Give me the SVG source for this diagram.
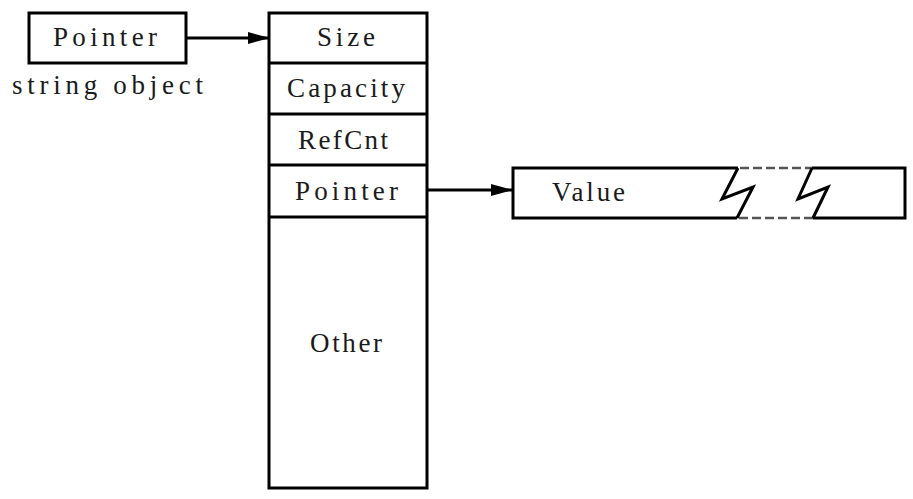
<svg xmlns="http://www.w3.org/2000/svg" width="913" height="499" viewBox="0 0 913 499">
<style>
.box{fill:#fff;stroke:#000;stroke-width:3}
.ln{fill:none;stroke:#000;stroke-width:3}
.t{font-family:"Liberation Serif","DejaVu Serif",serif;font-size:27px;fill:#1a1a1a}
.c{text-anchor:middle}
.dash{fill:none;stroke:#555;stroke-width:2.5;stroke-dasharray:9 4}
</style>
<defs>
<marker id="ah" viewBox="0 0 22 12" refX="22" refY="6" markerWidth="22" markerHeight="12" markerUnits="userSpaceOnUse" orient="auto">
<path d="M0,0 L22,6 L0,12 Z" fill="#000"/>
</marker>
</defs>
<rect width="913" height="499" fill="#fff"/>
<g id="string-object">
<rect class="box" x="29" y="13" width="157" height="50"/>
<text class="t c" x="105" y="46" textLength="104" lengthAdjust="spacing">Pointer</text>
<text class="t" x="12" y="94" textLength="191" lengthAdjust="spacing">string object</text>
</g>
<g id="header">
<rect class="box" x="269" y="13" width="158" height="475"/>
<line class="ln" x1="269" y1="63" x2="427" y2="63"/>
<line class="ln" x1="269" y1="114" x2="427" y2="114"/>
<line class="ln" x1="269" y1="165" x2="427" y2="165"/>
<line class="ln" x1="269" y1="217" x2="427" y2="217"/>
<text class="t c" x="346" y="46" textLength="58" lengthAdjust="spacing">Size</text>
<text class="t c" x="346" y="97" textLength="118" lengthAdjust="spacing">Capacity</text>
<text class="t c" x="343" y="149" textLength="90" lengthAdjust="spacing">RefCnt</text>
<text class="t c" x="346.5" y="200" textLength="103" lengthAdjust="spacing">Pointer</text>
<text class="t c" x="346" y="352" textLength="72" lengthAdjust="spacing">Other</text>
</g>
<g id="value">
<path class="ln" d="M738,168 L513,168 L513,218 L737,218"/>
<path class="ln" d="M812,168 L905,168 L905,218 L813,218"/>
<line class="dash" x1="740" y1="168" x2="812" y2="168"/>
<line class="dash" x1="739" y1="218" x2="813" y2="218"/>
<path class="ln" d="M738,168 L722,199 L753,187 L737,218"/>
<path class="ln" d="M812,168 L798,199 L828,187 L813,218"/>
<text class="t" x="552" y="201" textLength="73" lengthAdjust="spacing">Value</text>
</g>
<g id="connectors">
<line class="ln" x1="186" y1="38" x2="270" y2="38" marker-end="url(#ah)"/>
<line class="ln" x1="427" y1="190" x2="513" y2="190" marker-end="url(#ah)"/>
</g>
</svg>
